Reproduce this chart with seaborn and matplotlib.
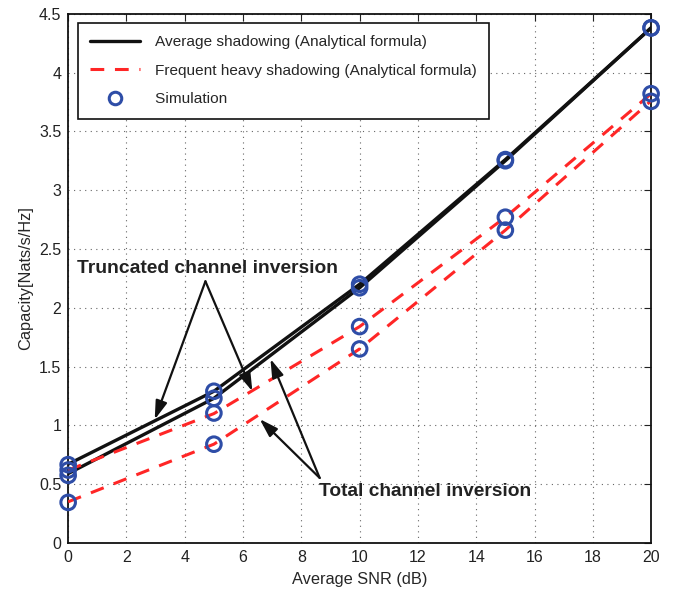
import numpy as np
import pandas as pd
import matplotlib
matplotlib.use("Agg")
import matplotlib.pyplot as plt
import seaborn as sns
from matplotlib.lines import Line2D

snr = [0, 5, 10, 15, 20]
avg_trunc = [0.67, 1.29, 2.20, 3.26, 4.38]
avg_total = [0.59, 1.23, 2.17, 3.25, 4.38]
heavy_trunc = [0.62, 1.10, 1.84, 2.77, 3.82]
heavy_total = [0.35, 0.84, 1.65, 2.66, 3.76]

sim_avg_trunc = [0.666, 1.29, 2.20, 3.26, 4.38]
sim_avg_total = [0.575, 1.23, 2.17, 3.25, 4.38]
sim_heavy_trunc = [0.62, 1.105, 1.84, 2.77, 3.82]
sim_heavy_total = [0.345, 0.84, 1.65, 2.66, 3.755]

xticks = list(range(0, 21, 2))
yticks = [0, 0.5, 1, 1.5, 2, 2.5, 3, 3.5, 4, 4.5]

sns.set_style("white")
plt.rcParams['font.family'] = ['Liberation Sans', 'DejaVu Sans']

fig = plt.figure(figsize=(6.85, 5.9), dpi=100)
ax = fig.add_axes([0.0995, 0.0797, 0.851, 0.897])

lines = pd.DataFrame({
    "snr": snr * 4,
    "cap": avg_trunc + avg_total + heavy_trunc + heavy_total,
    "curve": ["at"] * 5 + ["av"] * 5 + ["ht"] * 5 + ["hv"] * 5,
})
sim = pd.DataFrame({
    "snr": snr * 4,
    "cap": sim_avg_trunc + sim_avg_total + sim_heavy_trunc + sim_heavy_total,
})

black = "#111111"
red = "#FF2626"
blue = "#2E4DA7"

for key in ["at", "av"]:
    sns.lineplot(data=lines[lines.curve == key], x="snr", y="cap", ax=ax,
                 color=black, lw=2.4, zorder=3)
for key in ["ht", "hv"]:
    sns.lineplot(data=lines[lines.curve == key], x="snr", y="cap", ax=ax,
                 color=red, lw=2.2, zorder=3)
for ln in ax.get_lines()[2:4]:
    ln.set_dashes([4.5, 3.5])

sns.scatterplot(data=sim, x="snr", y="cap", ax=ax, marker="o", s=110,
                facecolors="none", edgecolor=blue, linewidth=2.2, zorder=4,
                clip_on=False)

ax.set_xlim(0, 20)
ax.set_ylim(0, 4.5)
ax.set_xticks(xticks)
ax.set_yticks(yticks)
ax.set_xticklabels([str(t) for t in xticks])
ax.set_yticklabels(["0", "0.5", "1", "1.5", "2", "2.5", "3", "3.5", "4", "4.5"])
ax.tick_params(direction="in", length=5, width=0.8, top=True, right=True,
               labelsize=11.5, colors="#222222", pad=5)
ax.grid(True, linestyle=(0, (1, 4)), color="#666666", linewidth=0.8)
for sp in ax.spines.values():
    sp.set_visible(True)
    sp.set_color("#111111")
    sp.set_linewidth(1.3)
ax.set_xlabel("Average SNR (dB)", fontsize=11.8, labelpad=5)
ax.set_ylabel("Capacity[Nats/s/Hz]", fontsize=11.8, labelpad=4)

handles = [
    Line2D([0], [0], color=black, lw=2.4),
    Line2D([0], [0], color=red, lw=2.2, dashes=[4.5, 3.5]),
    Line2D([0], [0], color=blue, lw=0, marker="o", markersize=9,
           markerfacecolor="none", markeredgewidth=2.2),
]
leg = ax.legend(handles, ["Average shadowing (Analytical formula)",
                          "Frequent heavy shadowing (Analytical formula)",
                          "Simulation  "],
                loc="upper left", bbox_to_anchor=(0.017, 0.983), fontsize=11.1,
                frameon=True, fancybox=False, edgecolor="#111111",
                borderpad=0.8, labelspacing=0.95, handlelength=3.2,
                handletextpad=1.0, borderaxespad=0)
leg.get_frame().set_linewidth(1.2)
leg.get_frame().set_alpha(1)

arrow = dict(arrowstyle="-|>,head_length=0.7,head_width=0.22", color=black,
             lw=1.6, mutation_scale=16, shrinkA=0, shrinkB=0)
ax.text(0.3, 2.33, "Truncated channel inversion", fontsize=13.9,
        fontweight="bold", color="#222222", va="center", ha="left")
ax.annotate("", xy=(2.97, 1.05), xytext=(4.71, 2.225), arrowprops=arrow)
ax.annotate("", xy=(6.32, 1.29), xytext=(4.71, 2.225), arrowprops=arrow)

ax.text(8.6, 0.44, "Total channel inversion", fontsize=13.8,
        fontweight="bold", color="#222222", va="center", ha="left")
ax.annotate("", xy=(6.57, 1.054), xytext=(8.63, 0.553), arrowprops=arrow)
ax.annotate("", xy=(6.94, 1.565), xytext=(8.63, 0.553), arrowprops=arrow)

fig.savefig("out.png", dpi=100)
